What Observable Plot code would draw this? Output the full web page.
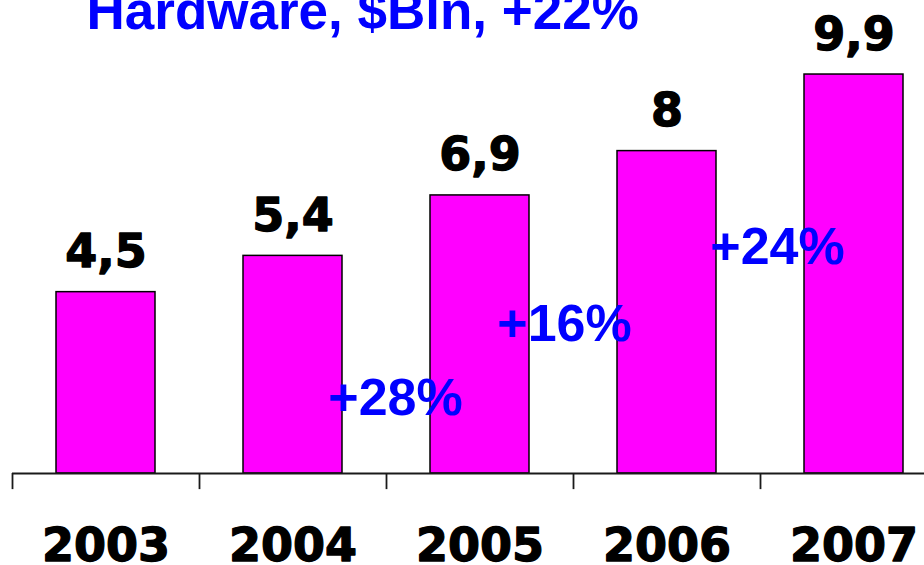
<!DOCTYPE html>
<html>
<head>
<meta charset="utf-8">
<script src="https://cdn.jsdelivr.net/npm/d3@7"></script>
<script src="https://cdn.jsdelivr.net/npm/@observablehq/plot@0.6"></script>
<style>
  html, body { margin: 0; padding: 0; background: #fff; overflow: hidden; }
  #chart svg { display: block; overflow: hidden; }
</style>
</head>
<body>
<div id="chart"></div>
<script>
const title = "Hardware, $Bln, +22%";
const years = ["2003", "2004", "2005", "2006", "2007"];
const values = [4.5, 5.4, 6.9, 8, 9.9];
const growthLabels = ["+28%", "+16%", "+24%"];
const growthToYear = ["2005", "2006", "2007"];
const growthLevel = [1.44, 3.3, 5.21];

const data = years.map((y, i) => ({year: y, value: values[i]}));
const fmt = v => String(v).replace(".", ",");

const W = 924, H = 565;
const step = (947 - 12) / years.length;

const growthMarks = growthLabels.map((g, i) =>
  Plot.text([{year: growthToYear[i], level: growthLevel[i], label: g}], {
    x: "year", y: "level", text: "label",
    dx: -step / 2 + [9, -9, 17][i],
    lineAnchor: "bottom", textAnchor: "middle",
    fontFamily: "Liberation Sans, Arial, sans-serif", fontWeight: "bold",
    fontSize: 52, fill: "#0000FF"
  })
);

const blackText = {
  fontFamily: "DejaVu Sans, sans-serif", fontWeight: "bold",
  fontSize: 46, fill: "#000", stroke: "#000", strokeWidth: 1.3
};

const chart = Plot.plot({
  width: W, height: H,
  marginTop: 0, marginLeft: 12, marginRight: 0, marginBottom: H - 473,
  style: {background: "#fff", overflow: "hidden"},
  x: {domain: years, range: [12, 947], paddingInner: 0.47, paddingOuter: 0.235, axis: null},
  y: {domain: [0, 10], range: [473, 70], axis: null},
  marks: [
    Plot.barY(data, {x: "year", y: "value", fill: "#FF00FF", stroke: "#000", strokeWidth: 1.5}),
    Plot.ruleY([0], {stroke: "#1a1a1a", strokeWidth: 1.8}),
    Plot.ruleX(years, {x: d => d, dx: -step / 2, y1: 0, y2: -0.4, stroke: "#1a1a1a", strokeWidth: 1.8}),
    Plot.text(data, {
      x: "year", y: "value", text: d => fmt(d.value), dy: -25,
      lineAnchor: "bottom", ...blackText
    }),
    Plot.text(years, {
      x: d => d, frameAnchor: "bottom", dy: 87, lineAnchor: "bottom", ...blackText
    }),
    ...growthMarks,
    Plot.text([title], {
      frameAnchor: "top-left", dx: 74, dy: 28, lineAnchor: "bottom", textAnchor: "start",
      fontFamily: "Liberation Sans, Arial, sans-serif", fontWeight: "bold",
      fontSize: 53, fill: "#0000FF"
    })
  ]
});
document.getElementById("chart").appendChild(chart);
</script>
</body>
</html>
